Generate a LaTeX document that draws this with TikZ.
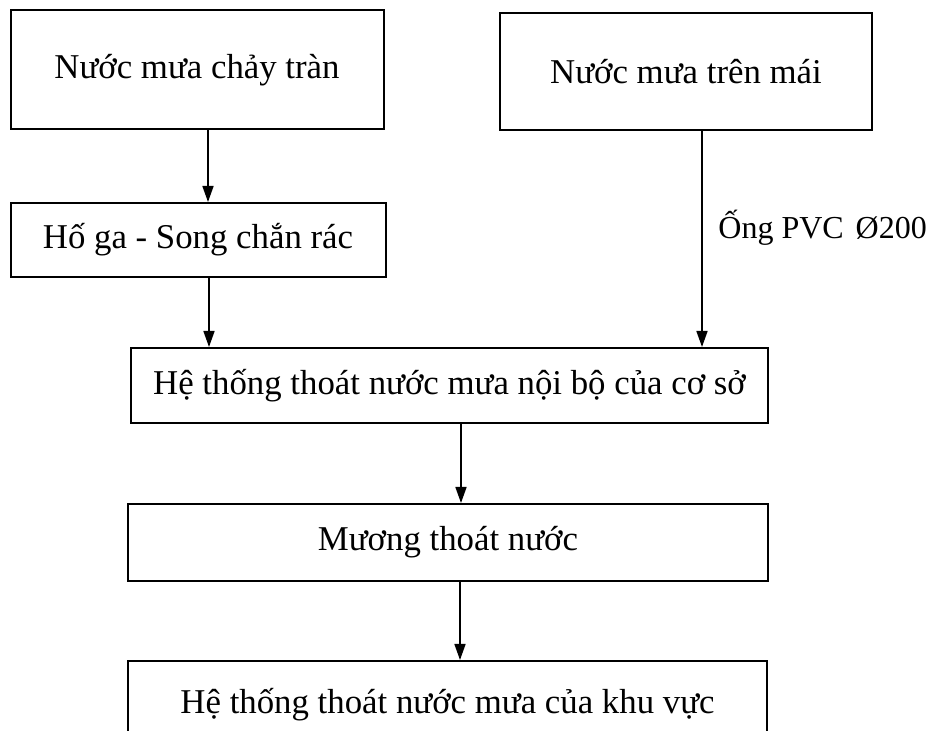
\documentclass[tikz,border=0pt]{standalone}
\usepackage{fontspec}
\setmainfont{Liberation Serif}
\usetikzlibrary{arrows.meta,positioning,calc}

\begin{document}
\begin{tikzpicture}[x=0.5pt, y=-0.5pt,
    stagebox/.style={rectangle, draw=black, line width=1pt, inner sep=0pt,
        font=\fontsize{17.4}{20}\selectfont, text=black},
    flow/.style={-{Triangle[length=8pt, width=5.5pt]}, line width=0.8pt}]
    \useasboundingbox (0,0) rectangle (934,731);

    % upper row
    \node[stagebox, minimum width=186.5pt, minimum height=59.5pt] (runoff) at (197,70) {Nước mưa chảy tràn};
    \node[stagebox, minimum width=186pt, minimum height=58.5pt] (roof) at (686,71.5) {Nước mưa trên mái};
    \node[stagebox, minimum width=187.5pt, minimum height=37pt] (trap) at (198,240) {Hố ga - Song chắn rác};

    % main line
    \node[stagebox, minimum width=318.5pt, minimum height=37.5pt] (inner) at (449.5,385.5) {Hệ thống thoát nước mưa nội bộ của cơ sở};
    \node[stagebox, minimum width=320pt, minimum height=38.5pt] (ditch) at (448,542.5) {Mương thoát nước};
    \node[stagebox, minimum width=319.5pt, minimum height=44pt] (area) at (447.5,705) {Hệ thống thoát nước mưa của khu vực};

    \draw[flow] ([xshift=5.5pt]runoff.south) -- ([xshift=5.5pt]runoff.south |- trap.north);
    \draw[flow] ([xshift=5.5pt]trap.south) -- ([xshift=5.5pt]trap.south |- inner.north);
    \draw[flow] ([xshift=8pt]roof.south) -- ([xshift=8pt]roof.south |- inner.north)
        coordinate[pos=0.45] (pipe);
    \node[anchor=west, font=\fontsize{16}{19}\selectfont, inner sep=0pt] (pipeL) at ([xshift=8pt]pipe) {Ống PVC\hspace{6pt}Ø200};
    \draw[flow] ([xshift=5.75pt]inner.south) -- ([xshift=5.75pt]inner.south |- ditch.north);
    \draw[flow] ([xshift=6pt]ditch.south) -- ([xshift=6pt]ditch.south |- area.north);
\end{tikzpicture}
\end{document}
